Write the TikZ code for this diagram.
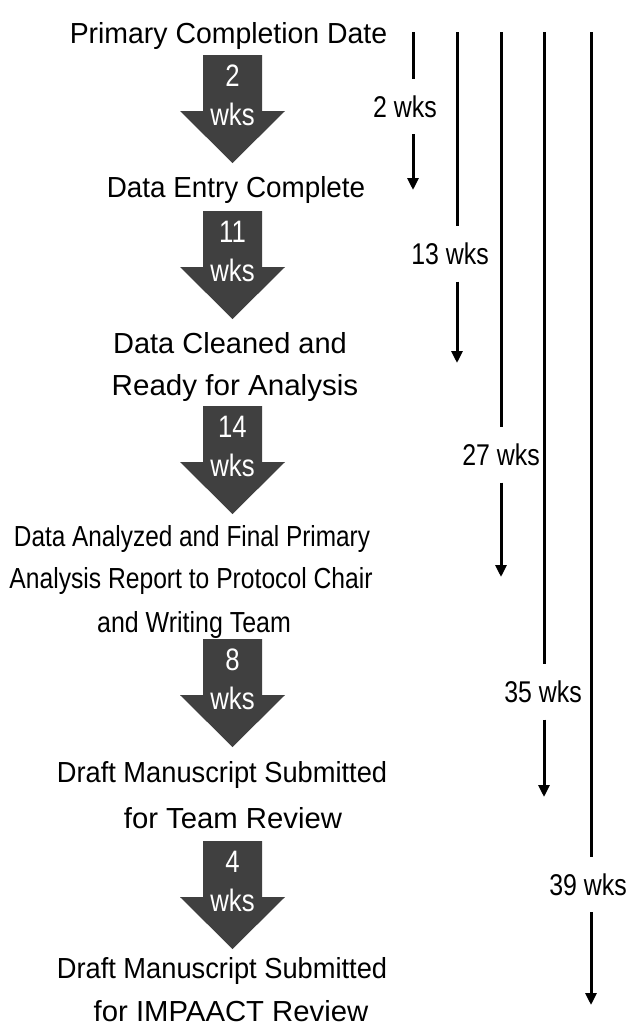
\documentclass[tikz,border=0pt]{standalone}
\usepackage{fontspec}
\usepackage{graphicx}
\setmainfont{Liberation Sans}
\newfontfamily\narrowfont[FakeStretch=0.83]{Liberation Sans}
\usetikzlibrary{arrows.meta}
\definecolor{blockgray}{HTML}{404040}
\tikzset{
  maintext/.style={anchor=base, align=center, font=\fontsize{29}{42}\selectfont, inner sep=0pt},
  blocklbl/.style={anchor=base, text=white, font=\narrowfont\fontsize{31}{31}\selectfont, inner sep=0pt},
  sidelbl/.style={font=\narrowfont\fontsize{30}{30}\selectfont, inner sep=0pt, minimum height=55pt},
  timeline/.style={line width=3pt},
  timearrow/.style={line width=3pt, -{Triangle[width=11pt,length=12pt]}}
}
\newcommand{\blockarrow}[4]{%
  % #1 name, #2 top y, #3 number, #4 centre x
  \fill[blockgray] (#4-29.5,#2) -- (#4+29.5,#2) -- (#4+29.5,#2+56) -- (#4+52.5,#2+56)
     -- (#4,#2+108) -- (#4-52.5,#2+56) -- (#4-29.5,#2+56) -- cycle;
  \node[blocklbl] (#1n) at (#4,#2+31) {#3};
  \node[blocklbl] (#1w) at (#4,#2+70) {wks};
}
\newcommand{\sx}[2]{\scalebox{#1}[1]{#2}}
\begin{document}
\begin{tikzpicture}[x=1pt,y=-1pt]
\useasboundingbox (0,0) rectangle (631,1028);
% milestones
\node[maintext] (m1) at (228.5,43) {\sx{0.98}{Primary Completion Date}};
\node[maintext] (m2a) at (236,197) {\sx{0.96}{Data Entry Complete}};
\node[maintext] (m3a) at (230,353) {\sx{1.0}{Data Cleaned and}};
\node[maintext] (m3b) at (235,395) {\sx{1.02}{Ready for Analysis}};
\node[maintext] (m4a) at (192,546) {\sx{0.84}{Data Analyzed and Final Primary}};
\node[maintext] (m4b) at (191,588) {\sx{0.85}{Analysis Report to Protocol Chair}};
\node[maintext] (m4c) at (194,632) {\sx{0.86}{and Writing Team}};
\node[maintext] (m5a) at (222,782) {\sx{0.94}{Draft Manuscript Submitted}};
\node[maintext] (m5b) at (233,828) {\sx{1.01}{for Team Review}};
\node[maintext] (m6a) at (222,978) {\sx{0.94}{Draft Manuscript Submitted}};
\node[maintext] (m6b) at (231,1021) {\sx{1.01}{for IMPAACT Review}};
% block arrows
\blockarrow{b1}{55}{2}{232.5}
\blockarrow{b2}{211}{11}{232.5}
\blockarrow{b3}{406}{14}{232.5}
\blockarrow{b4}{639}{8}{232.5}
\blockarrow{b5}{841}{4}{232.5}
% cumulative timelines
\coordinate (t1) at (413,32);  \coordinate (e1) at (413,190);
\coordinate (t2) at (457,32);  \coordinate (e2) at (457,363);
\coordinate (t3) at (501,32);  \coordinate (e3) at (501,577);
\coordinate (t4) at (544,32);  \coordinate (e4) at (544,797);
\coordinate (t5) at (591,32);  \coordinate (e5) at (591,1005);
\node[sidelbl] (l1) at (405,106.5) {2 wks};
\node[sidelbl] (l2) at (450,254) {13 wks};
\node[sidelbl] (l3) at (501,455) {27 wks};
\node[sidelbl] (l4) at (543,692) {35 wks};
\node[sidelbl] (l5) at (588,884.5) {39 wks};
\foreach \i in {1,...,5}{
  \draw[timeline] (t\i) -- (t\i |- l\i.north);
  \draw[timearrow] (t\i |- l\i.south) -- (e\i);
}
\end{tikzpicture}
\end{document}
